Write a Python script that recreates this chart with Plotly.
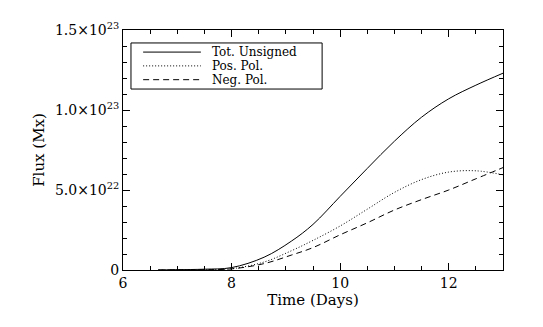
import numpy as np
import plotly.graph_objects as go

# time in days, flux in units of 1e22 Mx
days = [6.65, 7.0, 7.5, 8.0, 8.6, 9.1, 9.5, 10.0, 10.5, 11.0, 11.5, 12.0, 12.5, 13.0]
tot_unsigned = [0.0, 0.02, 0.05, 0.15, 0.8, 1.8, 2.85, 4.6, 6.35, 8.05, 9.55, 10.7, 11.55, 12.3]
pos_pol = [0.0, 0.01, 0.03, 0.08, 0.5, 1.2, 1.85, 2.75, 3.8, 4.85, 5.65, 6.12, 6.2, 5.95]
neg_pol = [0.0, 0.01, 0.02, 0.07, 0.4, 0.93, 1.4, 2.2, 2.95, 3.75, 4.4, 5.0, 5.7, 6.4]

names = ['Tot. Unsigned', 'Pos. Pol.', 'Neg. Pol.']
dashes = ['solid', '1px,2px', '6px,4px']

scale = 1e22
ytick_vals = [0, 5e22, 1e23, 1.5e23]
ytick_text = ['0', '5.0×10<sup>22</sup>', '1.0×10<sup>23</sup>', '1.5×10<sup>23</sup>']

font = 'DejaVu Serif'

fig = go.Figure()
for name, ys, dash in zip(names, [tot_unsigned, pos_pol, neg_pol], dashes):
    fig.add_trace(go.Scatter(x=days, y=np.array(ys) * scale, mode='lines', name=name,
                             line=dict(color='black', width=1, dash=dash,
                                       shape='spline', smoothing=1.0),
                             showlegend=False))

# legend drawn by hand, IDL style (long line samples, tight rows)
fig.add_shape(type='rect', xref='paper', yref='paper', x0=0.021, x1=0.524, y0=0.754, y1=0.946,
              line=dict(color='black', width=1), fillcolor='white', layer='above')
for i, (name, dash) in enumerate(zip(names, dashes)):
    yy = 0.908 - i * 0.0575
    fig.add_shape(type='line', xref='paper', yref='paper', x0=0.053, x1=0.205, y0=yy, y1=yy,
                  line=dict(color='black', width=1, dash=dash))
    fig.add_annotation(x=0.229, y=yy, xref='paper', yref='paper', text=name, showarrow=False,
                       xanchor='left', yanchor='middle',
                       font=dict(family=font, size=12, color='black'))

axis_common = dict(showgrid=False, zeroline=False, showline=True, linecolor='black',
                   linewidth=1, mirror='allticks', ticks='inside', ticklen=7,
                   tickcolor='black', tickfont=dict(family=font, size=14, color='black'))

fig.update_xaxes(range=[6, 13], tickvals=[6, 8, 10, 12],
                 minor=dict(dtick=0.5, ticks='inside', ticklen=4, tickcolor='black'),
                 title=dict(text='Time (Days)', font=dict(family=font, size=15, color='black'),
                            standoff=2),
                 **axis_common)
fig.update_yaxes(range=[0, 1.5e23], tickvals=ytick_vals, ticktext=ytick_text,
                 minor=dict(dtick=1e22, ticks='inside', ticklen=4, tickcolor='black'),
                 title=dict(text='Flux (Mx)', font=dict(family=font, size=15, color='black'),
                            standoff=6),
                 **axis_common)

# page body has an 8px margin, so shift the plot area up/left by that much
fig.update_layout(
    width=543, height=327,
    margin=dict(l=115, r=48, t=22, b=65),
    plot_bgcolor='white', paper_bgcolor='white',
    font=dict(family=font, size=13, color='black'),
    showlegend=False,
)

fig.write_html('out.html')
